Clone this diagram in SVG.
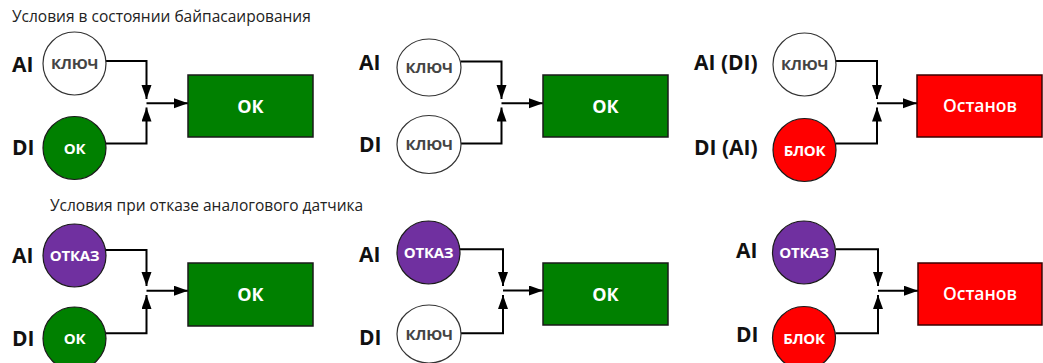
<svg xmlns="http://www.w3.org/2000/svg" width="1043" height="363" viewBox="0 0 1043 363">
<defs>
<marker id="ah" markerUnits="userSpaceOnUse" markerWidth="16" markerHeight="12" refX="14" refY="5" orient="auto">
<path d="M0,0 L14,5 L0,10 z" fill="#000"/>
</marker>
<style>
.title{font-family:"Open Sans","Liberation Sans",sans-serif;font-size:15.5px;fill:#222}
.lbl{font-family:"Open Sans","Liberation Sans",sans-serif;font-size:21px;font-weight:bold;fill:#111}
.ctext{font-family:"Open Sans","Liberation Sans",sans-serif;font-size:15px;font-weight:bold;text-anchor:middle;letter-spacing:-0.3px}
.btext{font-family:"Open Sans","Liberation Sans",sans-serif;font-size:18px;font-weight:bold;text-anchor:middle;fill:#fff}
.stop{font-size:17.5px;font-weight:600}
.key{fill:#fff;stroke:#333;stroke-width:1.2}
.key-t{fill:#444}
.ok{fill:#008000;stroke:#1a1a1a;stroke-width:1.2}
.blk{fill:#ff0000;stroke:#1a1a1a;stroke-width:1.2}
.fail{fill:#7030a0;stroke:#1a1a1a;stroke-width:1.2}
.wt{fill:#fff}
.box-ok{fill:#008000;stroke:#1a1a1a;stroke-width:1.5}
.box-stop{fill:#ff0000;stroke:#3a0000;stroke-width:1.5}
.conn path{fill:none;stroke:#000;stroke-width:2}
.arr{marker-end:url(#ah)}
</style>
</defs>
<rect width="1043" height="363" fill="#fff"/>

<text class="title" x="12" y="22">Условия в состоянии байпасаирования</text>
<text class="title" x="50" y="210.5">Условия при отказе аналогового датчика</text>

<g id="connectors" class="conn">
<!-- top left -->
<path class="arr" d="M106,61 H146.5 V99"/>
<path class="arr" d="M106,143.5 H146.5 V107.5"/>
<path class="arr" d="M146.5,103.3 H188"/>
<!-- top middle -->
<path class="arr" d="M460.5,61.5 H501.5 V99"/>
<path class="arr" d="M460.5,143.5 H501.5 V107.5"/>
<path class="arr" d="M501.5,103.3 H543"/>
<!-- top right -->
<path class="arr" d="M836,61 H877 V99"/>
<path class="arr" d="M836,143.5 H877 V107.5"/>
<path class="arr" d="M877,103.3 H917"/>
<!-- bottom left -->
<path class="arr" d="M106,250 H146.5 V286"/>
<path class="arr" d="M106,333.3 H146.5 V295"/>
<path class="arr" d="M146.5,290.7 H188"/>
<!-- bottom middle -->
<path class="arr" d="M460,249.3 H503 V286"/>
<path class="arr" d="M460.5,333.3 H503 V295"/>
<path class="arr" d="M503,290.5 H543"/>
<!-- bottom right -->
<path class="arr" d="M835.5,249.3 H878 V286"/>
<path class="arr" d="M835.5,333.3 H878 V295"/>
<path class="arr" d="M878,290.7 H918"/>
</g>

<!-- Top left -->
<g id="tl-ai"><text class="lbl" x="12" y="72">AI</text><circle class="key" cx="74.5" cy="63.5" r="31.5"/><text class="ctext key-t" x="74.5" y="69">КЛЮЧ</text></g>
<g id="tl-di"><text class="lbl" x="12" y="155">DI</text><circle class="ok" cx="74.5" cy="148" r="31.5"/><text class="ctext wt" x="74.5" y="153.5" font-size="14">ОК</text></g>
<g id="tl-out"><rect class="box-ok" x="188" y="75" width="125" height="62"/><text class="btext" x="250.5" y="112.5">ОК</text></g>

<!-- Top middle -->
<g id="tm-ai"><text class="lbl" x="359" y="70">AI</text><ellipse class="key" cx="429" cy="67.5" rx="32" ry="28.5"/><text class="ctext key-t" x="429" y="73">КЛЮЧ</text></g>
<g id="tm-di"><text class="lbl" x="359" y="152">DI</text><ellipse class="key" cx="429" cy="144.5" rx="32" ry="29"/><text class="ctext key-t" x="429" y="150">КЛЮЧ</text></g>
<g id="tm-out"><rect class="box-ok" x="543" y="75" width="125" height="62"/><text class="btext" x="605.5" y="112.5">ОК</text></g>

<!-- Top right -->
<g id="tr-ai"><text class="lbl" x="694" y="70">AI (DI)</text><circle class="key" cx="804.5" cy="64.5" r="31.5"/><text class="ctext key-t" x="804.5" y="70">КЛЮЧ</text></g>
<g id="tr-di"><text class="lbl" x="694" y="155">DI (AI)</text><circle class="blk" cx="804.5" cy="150" r="31.5"/><text class="ctext wt" x="804.5" y="155.5">БЛОК</text></g>
<g id="tr-out"><rect class="box-stop" x="917" y="75" width="125" height="62"/><text class="btext stop" x="980" y="112">Останов</text></g>

<!-- Bottom left -->
<g id="bl-ai"><text class="lbl" x="12" y="263">AI</text><circle class="fail" cx="74.5" cy="255.5" r="31.5"/><text class="ctext wt" x="74.5" y="261">ОТКАЗ</text></g>
<g id="bl-di"><text class="lbl" x="12" y="346">DI</text><circle class="ok" cx="74.5" cy="338.5" r="31.5"/><text class="ctext wt" x="74.5" y="344" font-size="14">ОК</text></g>
<g id="bl-out"><rect class="box-ok" x="188" y="263" width="125" height="63"/><text class="btext" x="250.5" y="301">ОК</text></g>

<!-- Bottom middle -->
<g id="bm-ai"><text class="lbl" x="359" y="261.5">AI</text><circle class="fail" cx="428.5" cy="252.5" r="31.5"/><text class="ctext wt" x="428.5" y="258">ОТКАЗ</text></g>
<g id="bm-di"><text class="lbl" x="359" y="345">DI</text><ellipse class="key" cx="429" cy="334" rx="32" ry="29"/><text class="ctext key-t" x="429" y="339.5">КЛЮЧ</text></g>
<g id="bm-out"><rect class="box-ok" x="543" y="263" width="125" height="62"/><text class="btext" x="605.5" y="300.5">ОК</text></g>

<!-- Bottom right -->
<g id="br-ai"><text class="lbl" x="736" y="258">AI</text><circle class="fail" cx="804" cy="252.5" r="31.5"/><text class="ctext wt" x="804" y="258">ОТКАЗ</text></g>
<g id="br-di"><text class="lbl" x="736" y="342">DI</text><circle class="blk" cx="804" cy="338" r="31.5"/><text class="ctext wt" x="804" y="343.5">БЛОК</text></g>
<g id="br-out"><rect class="box-stop" x="918" y="263" width="124" height="62"/><text class="btext stop" x="980" y="300">Останов</text></g>
</svg>
